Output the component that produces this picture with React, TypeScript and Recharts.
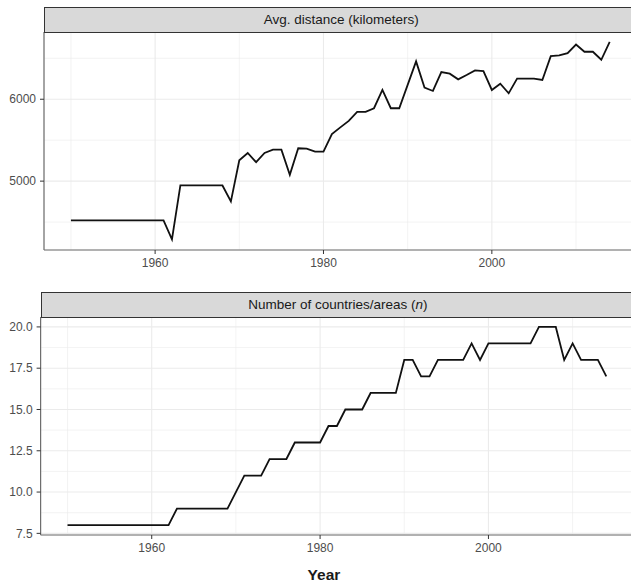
import React from 'react';
import { LineChart, Line, XAxis, YAxis, CartesianGrid, ReferenceLine } from 'recharts';

const years = [
  1950, 1951, 1952, 1953, 1954, 1955, 1956, 1957, 1958, 1959,
  1960, 1961, 1962, 1963, 1964, 1965, 1966, 1967, 1968, 1969,
  1970, 1971, 1972, 1973, 1974, 1975, 1976, 1977, 1978, 1979,
  1980, 1981, 1982, 1983, 1984, 1985, 1986, 1987, 1988, 1989,
  1990, 1991, 1992, 1993, 1994, 1995, 1996, 1997, 1998, 1999,
  2000, 2001, 2002, 2003, 2004, 2005, 2006, 2007, 2008, 2009,
  2010, 2011, 2012, 2013, 2014,
];

const avgDistance = [
  4520, 4520, 4520, 4520, 4520, 4520, 4520, 4520, 4520, 4520,
  4520, 4520, 4290, 4947, 4947, 4947, 4947, 4947, 4947, 4752,
  5255, 5344, 5231, 5344, 5384, 5384, 5077, 5401, 5396, 5360,
  5360, 5575, 5656, 5736, 5846, 5846, 5890, 6113, 5890, 5890,
  6175, 6462, 6142, 6101, 6332, 6312, 6243, 6296, 6352, 6344,
  6113, 6190, 6073, 6252, 6252, 6252, 6235, 6526, 6535, 6563,
  6668, 6580, 6580, 6482, 6701,
];

const countries = [
  8, 8, 8, 8, 8, 8, 8, 8, 8, 8,
  8, 8, 8, 9, 9, 9, 9, 9, 9, 9,
  10, 11, 11, 11, 12, 12, 12, 13, 13, 13,
  13, 14, 14, 15, 15, 15, 16, 16, 16, 16,
  18, 18, 17, 17, 18, 18, 18, 18, 19, 18,
  19, 19, 19, 19, 19, 19, 20, 20, 20, 18,
  19, 18, 18, 18, 17,
];

const xTicks = [1960, 1980, 2000];
const xMinor = [1950, 1970, 1990, 2010];
const distTicks = [5000, 6000];
const distMinor = [4500, 5500, 6500];
const countTicks = [7.5, 10, 12.5, 15, 17.5, 20];
const countMinor = [8.75, 11.25, 13.75, 16.25, 18.75];

// the right side of the panels is cut off by the picture frame
const xDomain = [1946.8, 2025];
const distDomain = [4159, 6821];
const countDomain = [7.4, 20.6];

const distData = years.map((y, i) => ({ year: y, value: avgDistance[i] }));
const countData = years.map((y, i) => ({ year: y, value: countries[i] }));

const FONT = '"Liberation Sans", Arial, Helvetica, sans-serif';
const tickStyle = { fill: '#4d4d4d', fontSize: 12, fontFamily: FONT };
const gridColor = '#ebebeb';
const axisColor = '#6e6e6e';

const stripStyle: React.CSSProperties = {
  position: 'absolute',
  boxSizing: 'border-box',
  background: '#d9d9d9',
  border: '1px solid #333',
  height: 25.5,
  width: 592.6,
  fontFamily: FONT,
  fontSize: 13.5,
  color: '#1a1a1a',
  display: 'flex',
  alignItems: 'center',
  justifyContent: 'center',
};

function Panel(props: {
  data: { year: number; value: number }[];
  yDomain: number[];
  yTicks: number[];
  yMinor: number[];
  yWidth: number;
  rightMargin: number;
  fmt?: (v: number) => string;
}) {
  const { data, yDomain, yTicks, yMinor, yWidth, rightMargin, fmt } = props;
  return (
    <LineChart
      width={720}
      height={270}
      data={data}
      margin={{ top: 32, right: rightMargin, bottom: 0, left: 0 }}
    >
      <CartesianGrid stroke={gridColor} strokeWidth={1.1} />
      {xMinor.map((v) => (
        <ReferenceLine key={'xm' + v} x={v} stroke={gridColor} strokeWidth={0.6} />
      ))}
      {yMinor.map((v) => (
        <ReferenceLine key={'ym' + v} y={v} stroke={gridColor} strokeWidth={0.6} />
      ))}
      <XAxis
        dataKey="year"
        type="number"
        domain={xDomain}
        ticks={xTicks}
        allowDataOverflow
        height={20}
        tickSize={4}
        tickMargin={4}
        tick={tickStyle}
        tickLine={{ stroke: '#333' }}
        axisLine={{ stroke: axisColor, strokeWidth: 1.2 }}
      />
      <YAxis
        type="number"
        domain={yDomain}
        ticks={yTicks}
        allowDataOverflow
        width={yWidth}
        tickSize={4}
        tickMargin={4}
        tick={tickStyle}
        tickFormatter={fmt}
        tickLine={{ stroke: '#333' }}
        axisLine={{ stroke: axisColor, strokeWidth: 1.2 }}
      />
      <Line
        type="linear"
        dataKey="value"
        stroke="#111"
        strokeWidth={1.8}
        dot={false}
        isAnimationActive={false}
      />
    </LineChart>
  );
}

export default function App() {
  return (
    <div
      style={{
        position: 'absolute',
        left: 0,
        top: 0,
        width: 631,
        height: 584,
        overflow: 'hidden',
        background: '#fff',
      }}
    >
      <div style={{ position: 'absolute', left: 0, top: 0 }}>
        <Panel
          data={distData}
          yDomain={distDomain}
          yTicks={distTicks}
          yMinor={distMinor}
          yWidth={44}
          rightMargin={17.7}
        />
      </div>
      <div style={{ ...stripStyle, left: 44, top: 7, width: 660 }}>
        <span style={{ position: 'absolute', left: 296.3, transform: 'translateX(-50%)', whiteSpace: 'nowrap' }}>
          Avg. distance (kilometers)
        </span>
      </div>

      <div style={{ position: 'absolute', left: 0, top: 285 }}>
        <Panel
          data={countData}
          yDomain={countDomain}
          yTicks={countTicks}
          yMinor={countMinor}
          yWidth={40.6}
          rightMargin={21.1}
          fmt={(v: number) => v.toFixed(1)}
        />
      </div>
      <div style={{ ...stripStyle, left: 40.6, top: 292, width: 660 }}>
        <span style={{ position: 'absolute', left: 296.3, transform: 'translateX(-50%)', whiteSpace: 'nowrap' }}>
          Number of countries/areas (<i>n</i>)
        </span>
      </div>

      <div
        style={{
          position: 'absolute',
          left: 324,
          top: 566,
          transform: 'translateX(-50%)',
          fontFamily: FONT,
          fontSize: 15.5,
          fontWeight: 'bold',
          color: '#1a1a1a',
          whiteSpace: 'nowrap',
        }}
      >
        Year
      </div>
    </div>
  );
}
